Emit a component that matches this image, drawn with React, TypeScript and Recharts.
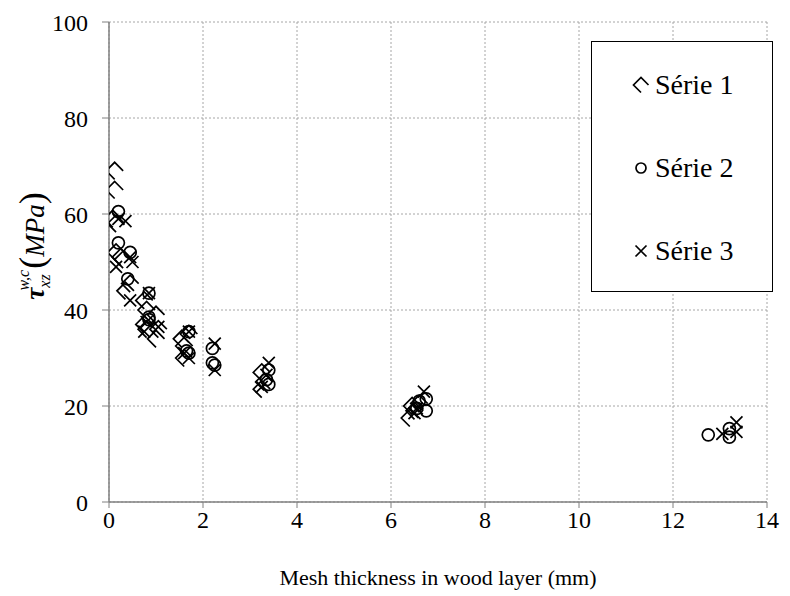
import { ScatterChart, Scatter, XAxis, YAxis, CartesianGrid, Label } from "recharts";

// Mesh thickness (mm), shear stress (MPa)
const serie1: [number, number][] = [
  [0.12, 69], [0.12, 65], [0.08, 59], [0.15, 58], [0.15, 52], [0.25, 51],
  [0.3, 50.5], [0.35, 44], [0.45, 45.5], [0.75, 42], [0.8, 40], [0.75, 37],
  [0.8, 36], [1.0, 39], [1.05, 36], [1.0, 34], [1.55, 34], [1.6, 32.5],
  [1.6, 30], [1.7, 35], [3.25, 27], [3.3, 25], [3.25, 23.5], [6.45, 20],
  [6.5, 19], [6.4, 17.5], [6.6, 20.5],
];

const serie2: [number, number][] = [
  [0.2, 60.5], [0.2, 54], [0.45, 52], [0.4, 46.5], [0.85, 43.5], [0.85, 38.5],
  [0.85, 38], [1.7, 35.5], [1.65, 31.5], [1.7, 31], [2.2, 32], [2.2, 29],
  [2.25, 28.5], [3.4, 27.5], [3.35, 25.5], [3.4, 24.5], [6.6, 21], [6.55, 19.5],
  [6.75, 19], [6.75, 21.5], [12.75, 14], [13.2, 15.3], [13.2, 13.5],
];

const serie3: [number, number][] = [
  [0.2, 59], [0.35, 58.5], [0.15, 49], [0.45, 51], [0.5, 50], [0.45, 42],
  [0.85, 43.5], [0.8, 37.5], [0.75, 35.5], [1.05, 36.5], [1.6, 31], [1.7, 30],
  [1.7, 35.5], [2.25, 33], [2.25, 27.5], [3.4, 29], [3.35, 26.5], [3.25, 24],
  [6.7, 23], [6.55, 19.5], [6.5, 18.5], [13.05, 14.2], [13.35, 16.6], [13.35, 14.6],
];

const xTicks = [0, 2, 4, 6, 8, 10, 12, 14];
const yTicks = [0, 20, 40, 60, 80, 100];
const seriesNames = ["Série 1", "Série 2", "Série 3"];

const FONT = '"Liberation Serif", "Times New Roman", serif';

const toPoints = (arr: [number, number][]) => arr.map(([x, y]) => ({ x, y }));

function Chevron({ cx, cy, s = 8.5 }: { cx?: number; cy?: number; s?: number }) {
  if (cx == null || cy == null) return null;
  const d = `M${cx + s},${cy} L${cx},${cy - s} L${cx - s},${cy} L${cx},${cy + s}`;
  return <path d={d} fill="none" stroke="#000" strokeWidth={1.7} />;
}

function Ring({ cx, cy, r = 6 }: { cx?: number; cy?: number; r?: number }) {
  if (cx == null || cy == null) return null;
  return <circle cx={cx} cy={cy} r={r} fill="none" stroke="#000" strokeWidth={1.7} />;
}

function Cross({ cx, cy, s = 6 }: { cx?: number; cy?: number; s?: number }) {
  if (cx == null || cy == null) return null;
  const d = `M${cx - s},${cy - s} L${cx + s},${cy + s} M${cx - s},${cy + s} L${cx + s},${cy - s}`;
  return <path d={d} fill="none" stroke="#000" strokeWidth={1.7} />;
}

function LegendBox() {
  const icons = [
    <Chevron cx={10} cy={10} s={7.5} />,
    <Ring cx={10} cy={10} r={5} />,
    <Cross cx={10} cy={10} s={5.5} />,
  ];
  return (
    <div
      style={{
        position: "absolute",
        left: 583,
        top: 33,
        width: 180,
        height: 249,
        border: "1px solid #000",
        background: "#fff",
        fontFamily: FONT,
        fontSize: 28,
      }}
    >
      {seriesNames.map((name, i) => (
        <div
          key={name}
          style={{
            position: "absolute",
            left: 39,
            top: 28 + i * 83,
            display: "flex",
            alignItems: "center",
            height: 30,
            whiteSpace: "nowrap",
          }}
        >
          <svg width={22} height={20}>{icons[i]}</svg>
          <span style={{ marginLeft: 2, color: "#000" }}>{name}</span>
        </div>
      ))}
    </div>
  );
}

function YTitle() {
  const x = 36;
  const y = 238;
  return (
    <text
      transform={`translate(${x},${y}) rotate(-90)`}
      textAnchor="middle"
      fontFamily={FONT}
      fontSize={27}
      fill="#000"
    >
      <tspan fontWeight="bold" fontStyle="italic">τ</tspan>
      <tspan fontStyle="italic" fontSize={16} dy={6}>xz</tspan>
      <tspan fontStyle="italic" fontSize={16} dx={-16} dy={-21}>w,c</tspan>
      <tspan dy={15} dx={1} fontSize={36}>(</tspan>
      <tspan fontStyle="italic">MPa</tspan>
      <tspan fontSize={36}>)</tspan>
    </text>
  );
}

function XTitle({ viewBox }: { viewBox?: { x: number; y: number; width: number; height: number } }) {
  if (!viewBox) return null;
  return (
    <text
      x={viewBox.x + viewBox.width / 2}
      y={577}
      textAnchor="middle"
      fontFamily={FONT}
      fontSize={22}
      fill="#000"
    >
      Mesh thickness in wood layer (mm)
    </text>
  );
}

export default function App() {
  const tickStyle = { fontSize: 24, fill: "#000", fontFamily: FONT };
  return (
    <div style={{ position: "relative", width: 774, height: 588, background: "#fff" }}>
      <ScatterChart
        width={774}
        height={588}
        margin={{ top: 14, right: 15, left: 41, bottom: 64 }}
      >
        <CartesianGrid stroke="#a6a6a6" strokeDasharray="2 2" />
        <XAxis
          type="number"
          dataKey="x"
          domain={[0, 14]}
          ticks={xTicks}
          allowDataOverflow
          height={30}
          tick={tickStyle}
          tickLine={{ stroke: "#808080" }}
          axisLine={{ stroke: "#808080", strokeWidth: 1.5 }}
          tickSize={6}
          tickMargin={3}
        >
          <Label content={<XTitle />} />
        </XAxis>
        <YAxis
          type="number"
          dataKey="y"
          domain={[0, 100]}
          ticks={yTicks}
          width={60}
          tick={tickStyle}
          tickLine={{ stroke: "#808080" }}
          axisLine={{ stroke: "#808080", strokeWidth: 1.5 }}
          tickSize={7}
          tickMargin={14}
        >
          <Label content={<YTitle />} />
        </YAxis>
        <Scatter
          name={seriesNames[0]}
          data={toPoints(serie1)}
          shape={(p: any) => <Chevron cx={p.cx} cy={p.cy} />}
          isAnimationActive={false}
        />
        <Scatter
          name={seriesNames[1]}
          data={toPoints(serie2)}
          shape={(p: any) => <Ring cx={p.cx} cy={p.cy} />}
          isAnimationActive={false}
        />
        <Scatter
          name={seriesNames[2]}
          data={toPoints(serie3)}
          shape={(p: any) => <Cross cx={p.cx} cy={p.cy} />}
          isAnimationActive={false}
        />
      </ScatterChart>
      <LegendBox />
    </div>
  );
}
